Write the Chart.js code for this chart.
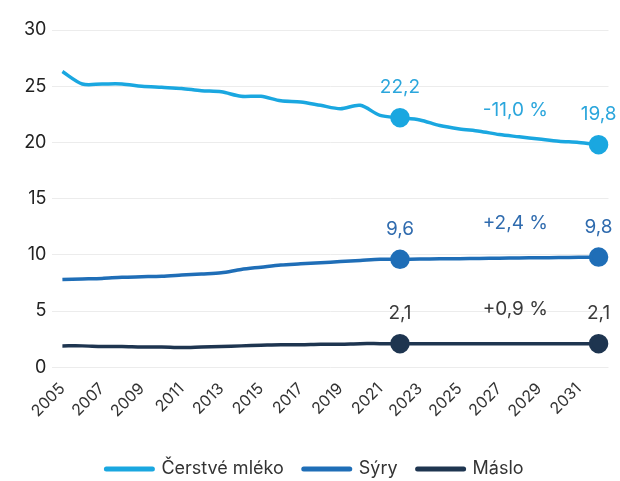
<!doctype html>
<html lang="cs">
  <head>
    <meta charset="UTF-8">
    <title>Spotřeba mléčných výrobků</title>
    <style>
      html, body { margin: 0; padding: 0; background: #fff; }
      #wrap { width: 620px; height: 481px; }
    </style>
  </head>
  <body>
    <div id="wrap"><canvas id="myChart"></canvas></div>

    <script src="https://cdn.jsdelivr.net/npm/chart.js@4.4.1/dist/chart.umd.min.js"></script>
    <script>
    // Data-----
    const years = [
      2005, 2006, 2007, 2008, 2009, 2010, 2011, 2012, 2013, 2014,
      2015, 2016, 2017, 2018, 2019, 2020, 2021, 2022, 2023, 2024,
      2025, 2026, 2027, 2028, 2029, 2030, 2031, 2032
    ];
    const milk = [
      26.3, 25.2, 25.2, 25.2, 25.0, 24.9, 24.8, 24.6, 24.5, 24.1,
      24.1, 23.7, 23.6, 23.3, 23.0, 23.3, 22.4, 22.2, 22.0, 21.5,
      21.2, 21.0, 20.7, 20.5, 20.3, 20.1, 20.0, 19.8
    ];
    const cheese = [
      7.8, 7.85, 7.9, 8.0, 8.05, 8.1, 8.2, 8.3, 8.4, 8.7,
      8.9, 9.1, 9.2, 9.3, 9.4, 9.5, 9.6, 9.6, 9.62, 9.64,
      9.66, 9.68, 9.7, 9.72, 9.74, 9.76, 9.78, 9.8
    ];
    const butter = [
      1.9, 1.9, 1.85, 1.85, 1.8, 1.8, 1.75, 1.8, 1.85, 1.9,
      1.95, 2.0, 2.0, 2.05, 2.05, 2.1, 2.1, 2.1, 2.1, 2.1,
      2.1, 2.1, 2.1, 2.1, 2.1, 2.1, 2.1, 2.1
    ];
    const seriesNames = ['Čerstvé mléko', 'Sýry', 'Máslo'];
    const changeLabels = ['-11,0 %', '+2,4 %', '+0,9 %'];
    const markedYears = [2022, 2032];
    // Data-----

    const lineColors = ['#1AA7E0', '#1F6EB7', '#1E3550'];
    const labelColors = ['#2BA6DC', '#2F6BAE', '#3A3A3A'];
    const FONT = 'Inter, "Open Sans", sans-serif';

    const markerIdx = markedYears.map(y => years.indexOf(y));
    const fmt = v => v.toFixed(1).replace('.', ',');

    // value labels above the two markers, change label between them
    const annotations = {
      id: 'annotations',
      afterDatasetsDraw(chart) {
        const ctx = chart.ctx;
        const xs = chart.scales.x;
        ctx.save();
        ctx.font = '19px ' + FONT;
        ctx.textAlign = 'center';
        ctx.textBaseline = 'middle';
        chart.data.datasets.forEach((ds, i) => {
          const meta = chart.getDatasetMeta(i);
          ctx.fillStyle = labelColors[i];
          markerIdx.forEach(idx => {
            const pt = meta.data[idx];
            ctx.fillText(fmt(ds.data[idx]), pt.x, pt.y - 30);
          });
          const end = meta.data[markerIdx[1]];
          const midX = (xs.getPixelForValue(markerIdx[0]) + xs.getPixelForValue(markerIdx[1])) / 2 + 16;
          ctx.fillText(changeLabels[i], midX, end.y - 34);
        });
        ctx.restore();
      }
    };

    const makeSet = (label, values, i) => ({
      label,
      data: values,
      borderColor: lineColors[i],
      backgroundColor: lineColors[i],
      pointBackgroundColor: lineColors[i],
      pointBorderColor: lineColors[i],
      borderWidth: 3.5,
      tension: 0.3,
      pointRadius: ctx => markerIdx.includes(ctx.dataIndex) ? 8 : 0,
      pointHoverRadius: 0,
      clip: false
    });

    const config = {
      type: 'line',
      data: {
        labels: years.map(String),
        datasets: [
          makeSet(seriesNames[0], milk, 0),
          makeSet(seriesNames[1], cheese, 1),
          makeSet(seriesNames[2], butter, 2)
        ]
      },
      options: {
        responsive: true,
        maintainAspectRatio: false,
        animation: false,
        layout: { padding: { top: 30, right: 8, left: 18, bottom: -7 } },
        plugins: {
          legend: {
            position: 'bottom',
            labels: {
              usePointStyle: true,
              pointStyle: 'line',
              pointStyleWidth: 46,
              padding: 20,
              color: '#333',
              font: { size: 18, family: FONT },
              generateLabels(chart) {
                const items = Chart.defaults.plugins.legend.labels.generateLabels(chart);
                items.forEach(it => { it.lineWidth = 5; it.lineCap = 'round'; });
                return items;
              }
            }
          },
          tooltip: { enabled: false }
        },
        scales: {
          x: {
            offset: true,
            grid: { display: false },
            border: { display: false },
            afterFit(scale) { scale.height += 15; },
            ticks: {
              autoSkip: false,
              maxRotation: 45,
              minRotation: 45,
              padding: 4,
              color: '#333',
              font: { size: 16, family: FONT },
              callback(val, idx) { return idx % 2 === 0 ? this.getLabelForValue(val) : ''; }
            }
          },
          y: {
            min: 0,
            max: 30,
            border: { display: false },
            grid: { color: '#ececec', drawTicks: false },
            ticks: {
              stepSize: 5,
              padding: 6,
              color: '#222',
              font: { size: 18, family: FONT }
            }
          }
        }
      },
      plugins: [annotations]
    };

    var myChart = new Chart(document.getElementById('myChart'), config);
    </script>
  </body>
</html>
